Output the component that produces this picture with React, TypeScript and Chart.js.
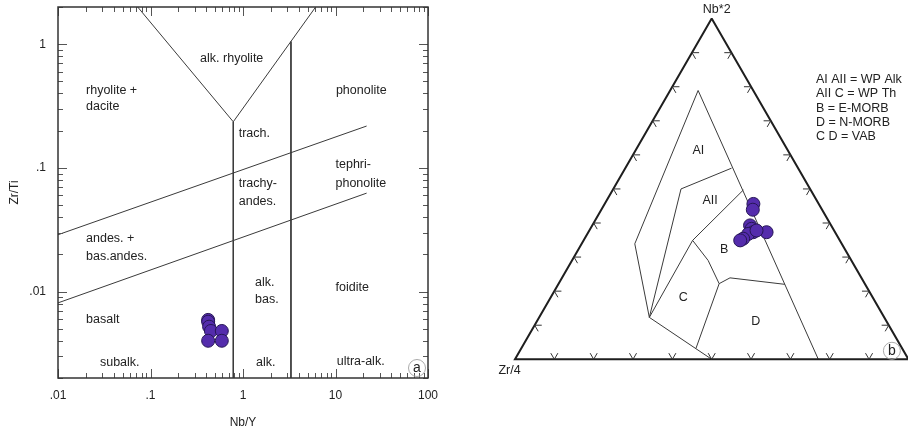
import React, { useEffect, useRef } from 'react';
import { Chart, registerables } from 'chart.js';

Chart.register(...registerables);

const FONT = '"Liberation Sans", Arial, Helvetica, sans-serif';
const TEXT = '#222';
const LINE = '#3a3a3a';
const FILL = 'rgb(84,44,172)';
const EDGE = 'rgb(38,22,86)';

// ---------------- (a) Zr/Ti vs Nb/Y ----------------
const xTickValues = [0.01, 0.1, 1, 10, 100];
const xTickLabels = ['.01', '.1', '1', '10', '100'];
const yTickValues = [0.01, 0.1, 1];
const yTickLabels = ['.01', '.1', '1'];

const sampleNbY = [0.42, 0.42, 0.43, 0.45, 0.59, 0.42, 0.59];
const sampleZrTi = [0.0059, 0.0057, 0.0052, 0.0048, 0.0048, 0.004, 0.004];

// field boundaries (Nb/Y, Zr/Ti)
const vLineNbY = [0.0727, 0.785, 6.1];
const vLineZrTi = [2, 0.236, 2];
const alkLineNbY = [0.785, 0.785];
const alkLineZrTi = [0.236, 0.002];
const ultraLineNbY = [3.3, 3.3];
const ultraLineZrTi = [1.05, 0.002];
const upperSlopeNbY = [0.01, 21.7];
const upperSlopeZrTi = [0.0288, 0.218];
const lowerSlopeNbY = [0.01, 21.7];
const lowerSlopeZrTi = [0.0081, 0.0625];

// field names (text, Nb/Y, Zr/Ti, align)
const fieldText = ['alk. rhyolite', 'rhyolite +', 'dacite', 'phonolite', 'trach.', 'tephri-', 'phonolite', 'trachy-', 'andes.', 'andes. +', 'bas.andes.', 'alk.', 'bas.', 'foidite', 'basalt', 'subalk.', 'alk.', 'ultra-alk.'];
const fieldNbY = [0.755, 0.0201, 0.0201, 10.1, 0.899, 10.0, 10.0, 0.899, 0.899, 0.0201, 0.0201, 1.349, 1.349, 10.0, 0.0201, 0.0284, 1.382, 10.3];
const fieldZrTi = [0.771, 0.426, 0.316, 0.426, 0.1905, 0.107, 0.0753, 0.0753, 0.0535, 0.0268, 0.0193, 0.01175, 0.00861, 0.0107, 0.00594, 0.00266, 0.00266, 0.0027];
const fieldAlign = ['center', 'left', 'left', 'left', 'left', 'left', 'left', 'left', 'left', 'left', 'left', 'left', 'left', 'left', 'left', 'left', 'left', 'left'];

// ---------------- (b) Nb*2 - Zr/4 - Y ternary ----------------
// compositions as fractions: Nb*2, Y (Zr/4 = 1 - Nb*2 - Y)
const sampleNb2 = [0.456, 0.439, 0.393, 0.383, 0.373, 0.368, 0.354, 0.349, 0.373, 0.378];
const sampleY = [0.378, 0.385, 0.401, 0.41, 0.419, 0.409, 0.403, 0.398, 0.453, 0.425];

const outerNb2 = [1, 0, 0, 1];
const outerY = [0, 0, 1, 0];

const aiOuterNb2 = [0.123, 0.339, 0.789, 0];
const aiOuterY = [0.28, 0.135, 0.071, 0.771];
const lowerLeftNb2 = [0.123, 0];
const lowerLeftY = [0.28, 0.5];
const aiAiiNb2 = [0.561, 0.5, 0.123];
const aiAiiY = [0.27, 0.172, 0.28];
const aiiBNb2 = [0.497, 0.349, 0.123];
const aiiBY = [0.332, 0.277, 0.28];
const bcNb2 = [0.349, 0.29, 0.222];
const bcY = [0.277, 0.346, 0.408];
const cdNb2 = [0.222, 0.032];
const cdY = [0.408, 0.444];
const bdNb2 = [0.222, 0.239, 0.22];
const bdY = [0.408, 0.427, 0.576];

const regionText = ['AI', 'AII', 'B', 'C', 'D'];
const regionNb2 = [0.612, 0.466, 0.322, 0.181, 0.11];
const regionY = [0.16, 0.263, 0.371, 0.337, 0.557];

const legendLines = ['AI AII = WP Alk', 'AII C = WP Th', 'B = E-MORB', 'D = N-MORB', 'C D = VAB'];
const ternTicks = [0.1, 0.2, 0.3, 0.4, 0.5, 0.6, 0.7, 0.8, 0.9];

const H = Math.sqrt(3) / 2;
function tern(nb: number, y: number) {
  return { x: y + nb / 2, y: nb * H };
}
function ternSeries(nb: number[], y: number[]) {
  return nb.map((v, i) => tern(v, y[i]));
}
function pairs(xs: number[], ys: number[]) {
  return xs.map((v, i) => ({ x: v, y: ys[i] }));
}

function lineDs(data: { x: number; y: number }[], width = 1, color = LINE) {
  return {
    data,
    showLine: true,
    pointRadius: 0,
    pointHoverRadius: 0,
    borderColor: color,
    borderWidth: width,
    backgroundColor: color,
    fill: false,
    tension: 0,
  };
}

const pointDs = (data: { x: number; y: number }[]) => ({
  data,
  showLine: false,
  pointRadius: 6.5,
  pointHoverRadius: 6.5,
  backgroundColor: FILL,
  borderColor: EDGE,
  borderWidth: 1,
});

const leftDecor = {
  id: 'leftDecor',
  afterDraw(chart: any) {
    const ctx = chart.ctx;
    const { left, right, top, bottom } = chart.chartArea;
    const xs = chart.scales.x;
    const ys = chart.scales.y;
    ctx.save();
    ctx.strokeStyle = '#555';
    ctx.lineWidth = 1;
    for (let e = -3; e <= 2; e++) {
      for (let m = 1; m <= 9; m++) {
        const v = m * Math.pow(10, e);
        const len = m === 1 ? 9 : 5;
        if (v >= 0.01 * 0.999 && v <= 100 * 1.001) {
          const px = Math.round(xs.getPixelForValue(v)) + 0.5;
          ctx.beginPath();
          ctx.moveTo(px, bottom);
          ctx.lineTo(px, bottom - len);
          ctx.moveTo(px, top);
          ctx.lineTo(px, top + len);
          ctx.stroke();
        }
        if (v >= 0.002 * 0.999 && v <= 2 * 1.001) {
          const py = Math.round(ys.getPixelForValue(v)) + 0.5;
          ctx.beginPath();
          ctx.moveTo(left, py);
          ctx.lineTo(left + len, py);
          ctx.moveTo(right, py);
          ctx.lineTo(right - len, py);
          ctx.stroke();
        }
      }
    }
    ctx.strokeStyle = '#333';
    ctx.lineWidth = 1.5;
    ctx.strokeRect(left, top, right - left, bottom - top);

    ctx.fillStyle = TEXT;
    ctx.font = `12.5px ${FONT}`;
    ctx.textBaseline = 'middle';
    fieldText.forEach((t, i) => {
      ctx.textAlign = fieldAlign[i];
      ctx.fillText(t, xs.getPixelForValue(fieldNbY[i]), ys.getPixelForValue(fieldZrTi[i]));
    });
    // panel letter
    const cx = right - 11;
    const cy = bottom - 10;
    ctx.beginPath();
    ctx.strokeStyle = '#aaa';
    ctx.lineWidth = 1;
    ctx.arc(cx, cy, 8.5, 0, Math.PI * 2);
    ctx.stroke();
    ctx.textAlign = 'center';
    ctx.font = `14px ${FONT}`;
    ctx.fillText('a', cx, cy);
    ctx.restore();
  },
};

const rightDecor = {
  id: 'rightDecor',
  afterDraw(chart: any) {
    const ctx = chart.ctx;
    const xs = chart.scales.x;
    const ys = chart.scales.y;
    const P = (p: { x: number; y: number }) => [xs.getPixelForValue(p.x), ys.getPixelForValue(p.y)];
    const L = { x: 0, y: 0 };
    const R = { x: 1, y: 0 };
    const T = { x: 0.5, y: H };
    const arm = 0.018;
    ctx.save();
    ctx.strokeStyle = '#333';
    ctx.lineWidth = 1;
    const drawArms = (p: { x: number; y: number }, dirs: number[][]) => {
      const [px, py] = P(p);
      dirs.forEach(([dx, dy]) => {
        const [qx, qy] = P({ x: p.x + dx * arm, y: p.y + dy * arm });
        ctx.beginPath();
        ctx.moveTo(px, py);
        ctx.lineTo(qx, qy);
        ctx.stroke();
      });
    };
    ternTicks.forEach((t) => {
      drawArms({ x: L.x + (R.x - L.x) * t, y: 0 }, [[-0.5, H], [0.5, H]]);
      drawArms({ x: L.x + (T.x - L.x) * t, y: L.y + (T.y - L.y) * t }, [[1, 0], [0.5, -H]]);
      drawArms({ x: R.x + (T.x - R.x) * t, y: R.y + (T.y - R.y) * t }, [[-1, 0], [-0.5, -H]]);
    });

    ctx.fillStyle = TEXT;
    ctx.font = `12.5px ${FONT}`;
    ctx.textBaseline = 'middle';
    ctx.textAlign = 'center';
    regionText.forEach((t, i) => {
      const [px, py] = P(tern(regionNb2[i], regionY[i]));
      ctx.fillText(t, px, py);
    });
    const [tx, ty] = P(T);
    ctx.fillText('Nb*2', tx + 5, ty - 9);
    const [lx, ly] = P(L);
    ctx.fillText('Zr/4', lx - 5.5, ly + 11);

    ctx.textAlign = 'left';
    legendLines.forEach((t, i) => {
      ctx.fillText(t, 356, 79.5 + i * 14.3);
    });

    const [rx, ry] = P(R);
    const cx = rx - 16.5;
    const cy = ry - 8.5;
    ctx.beginPath();
    ctx.strokeStyle = '#aaa';
    ctx.arc(cx, cy, 8.5, 0, Math.PI * 2);
    ctx.stroke();
    ctx.font = `14px ${FONT}`;
    ctx.textAlign = 'center';
    ctx.fillText('b', cx, cy);
    ctx.restore();
  },
};

function LeftChart() {
  const ref = useRef<HTMLCanvasElement>(null);
  useEffect(() => {
    const tickFont = { family: FONT, size: 12 };
    const chart = new Chart(ref.current as HTMLCanvasElement, {
      type: 'scatter',
      data: {
        datasets: [
          pointDs(pairs(sampleNbY, sampleZrTi)),
          lineDs(pairs(vLineNbY, vLineZrTi)),
          lineDs(pairs(alkLineNbY, alkLineZrTi)),
          lineDs(pairs(ultraLineNbY, ultraLineZrTi)),
          lineDs(pairs(upperSlopeNbY, upperSlopeZrTi)),
          lineDs(pairs(lowerSlopeNbY, lowerSlopeZrTi)),
        ] as any,
      },
      options: {
        animation: false,
        responsive: false,
        maintainAspectRatio: false,
        layout: { autoPadding: false, padding: { top: 7, right: 32, left: 0, bottom: 0 } },
        plugins: { legend: { display: false }, tooltip: { enabled: false } },
        scales: {
          x: {
            type: 'logarithmic',
            min: 0.01,
            max: 100,
            position: 'bottom',
            grid: { display: false, drawTicks: false },
            border: { display: false },
            afterBuildTicks: (s: any) => {
              s.ticks = xTickValues.map((v) => ({ value: v }));
            },
            afterFit: (s: any) => {
              s.height = 55;
              s.paddingLeft = 0;
              s.paddingRight = 0;
            },
            ticks: {
              autoSkip: false,
              maxRotation: 0,
              padding: 10,
              color: TEXT,
              font: tickFont,
              callback: (v: any) => {
                const i = xTickValues.indexOf(Number(v));
                return i >= 0 ? xTickLabels[i] : '';
              },
            },
            title: { display: true, text: 'Nb/Y', color: TEXT, font: tickFont, padding: { top: 0, bottom: 3 } },
          },
          y: {
            type: 'logarithmic',
            min: 0.002,
            max: 2,
            position: 'left',
            grid: { display: false, drawTicks: false },
            border: { display: false },
            afterBuildTicks: (s: any) => {
              s.ticks = yTickValues.map((v) => ({ value: v }));
            },
            afterFit: (s: any) => {
              s.width = 58;
              s.paddingTop = 0;
              s.paddingBottom = 0;
            },
            ticks: {
              autoSkip: false,
              padding: 12,
              color: TEXT,
              font: tickFont,
              callback: (v: any) => {
                const i = yTickValues.indexOf(Number(v));
                return i >= 0 ? yTickLabels[i] : '';
              },
            },
            title: { display: true, text: 'Zr/Ti', color: TEXT, font: tickFont, padding: { top: 7, bottom: 0 } },
          },
        },
      } as any,
      plugins: [leftDecor],
    });
    return () => chart.destroy();
  }, []);
  return (
    <canvas
      ref={ref}
      width={460}
      height={433}
      style={{ position: 'absolute', left: 0, top: 0, width: 460, height: 433 }}
    />
  );
}

function RightChart() {
  const ref = useRef<HTMLCanvasElement>(null);
  useEffect(() => {
    const chart = new Chart(ref.current as HTMLCanvasElement, {
      type: 'scatter',
      data: {
        datasets: [
          pointDs(ternSeries(sampleNb2, sampleY)),
          lineDs(ternSeries(outerNb2, outerY), 2, '#1e1e1e'),
          lineDs(ternSeries(aiOuterNb2, aiOuterY)),
          lineDs(ternSeries(lowerLeftNb2, lowerLeftY)),
          lineDs(ternSeries(aiAiiNb2, aiAiiY)),
          lineDs(ternSeries(aiiBNb2, aiiBY)),
          lineDs(ternSeries(bcNb2, bcY)),
          lineDs(ternSeries(cdNb2, cdY)),
          lineDs(ternSeries(bdNb2, bdY)),
        ] as any,
      },
      options: {
        animation: false,
        responsive: false,
        maintainAspectRatio: false,
        layout: { autoPadding: false, padding: 0 },
        plugins: { legend: { display: false }, tooltip: { enabled: false } },
        scales: {
          x: { type: 'linear', min: -0.1398, max: 0.999, display: false },
          y: { type: 'linear', min: -0.1874, max: 0.9133, display: false },
        },
      } as any,
      plugins: [rightDecor],
    });
    return () => chart.destroy();
  }, []);
  return (
    <canvas
      ref={ref}
      width={448}
      height={433}
      style={{ position: 'absolute', left: 460, top: 0, width: 448, height: 433 }}
    />
  );
}

export default function App() {
  return (
    <div
      style={{
        position: 'fixed',
        left: 0,
        top: 0,
        width: 908,
        height: 433,
        background: '#fff',
        overflow: 'hidden',
      }}
    >
      <LeftChart />
      <RightChart />
    </div>
  );
}
